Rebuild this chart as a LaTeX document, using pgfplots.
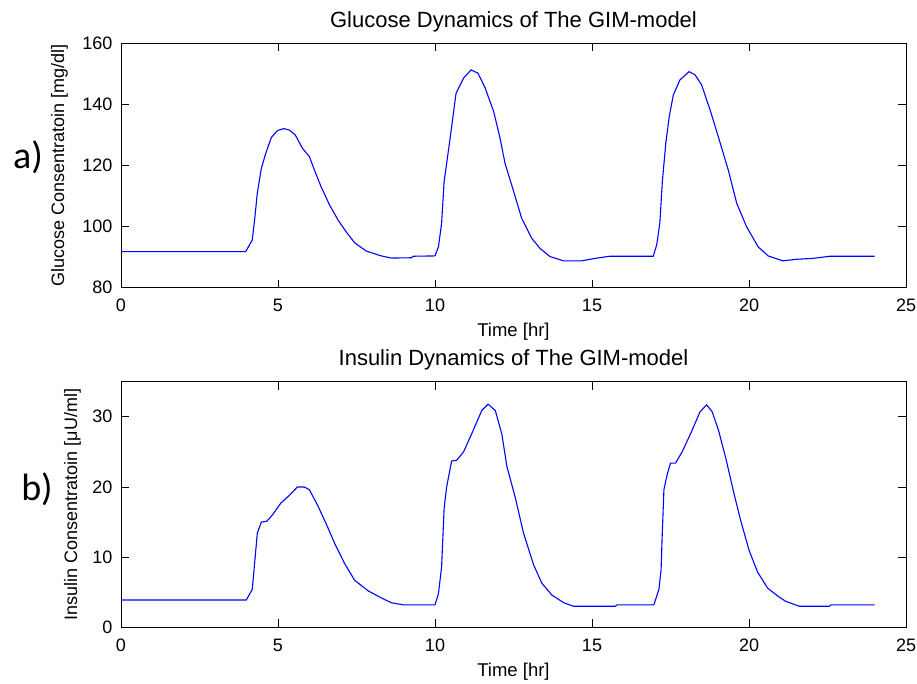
\documentclass[border=0pt]{standalone}
\usepackage{pgfplots}
\pgfplotsset{compat=1.18}
\usepackage{pgfplotstable}
\usepackage{fontspec}
\setmainfont{Liberation Sans}
\newfontfamily\labfont{Carlito}

\pgfplotstableread{
t G
0 91.8
3.97 91.8
4.18 95.6
4.26 102.7
4.34 110.9
4.47 119.1
4.61 124.0
4.79 129.2
4.98 131.4
5.18 132.1
5.36 131.6
5.55 130.0
5.78 125.6
6.00 122.9
6.16 118.5
6.37 113.1
6.64 107.1
6.91 102.2
7.17 98.3
7.44 94.7
7.81 92.0
8.29 90.4
8.61 89.7
9.25 89.8
9.31 90.3
10.00 90.4
10.11 93.4
10.21 101.1
10.29 114.7
10.43 125.1
10.53 132.7
10.67 143.6
10.91 148.6
11.15 151.3
11.37 150.2
11.60 145.3
11.87 137.6
12.07 129.0
12.23 120.7
12.49 112.0
12.76 102.7
13.08 96.2
13.34 92.9
13.66 90.2
14.09 88.8
14.67 88.8
15.10 89.6
15.57 90.3
16.95 90.3
17.06 94.0
17.16 101.1
17.24 114.7
17.35 127.3
17.46 136.0
17.59 143.1
17.80 148.0
18.09 150.7
18.28 149.7
18.49 146.4
18.76 138.2
19.02 129.5
19.34 118.5
19.61 107.6
19.92 100.0
20.29 93.4
20.61 90.4
21.08 88.8
21.51 89.3
22.04 89.6
22.58 90.3
24.00 90.3
}\glucose

\pgfplotstableread{
t I
0 3.89
3.99 3.89
4.18 5.4
4.26 9.35
4.34 13.4
4.47 15.0
4.64 15.1
4.82 16.0
5.09 17.7
5.36 18.8
5.62 20.0
5.84 20.0
6.00 19.6
6.26 17.4
6.53 14.8
6.80 12.0
7.12 9.1
7.44 6.7
7.87 5.2
8.24 4.3
8.61 3.5
8.99 3.2
10.00 3.2
10.11 4.8
10.21 8.6
10.29 16.9
10.37 20.0
10.53 23.7
10.69 23.8
10.91 25.0
11.17 27.6
11.49 30.9
11.69 31.8
11.92 30.9
12.13 27.5
12.29 22.9
12.55 18.6
12.82 13.4
13.14 8.9
13.40 6.3
13.72 4.6
14.10 3.5
14.41 3.0
15.74 3.0
15.80 3.2
16.97 3.2
17.13 5.4
17.20 8.2
17.23 12.4
17.29 19.6
17.39 21.7
17.50 23.4
17.66 23.4
17.87 25.0
18.14 27.6
18.44 30.7
18.65 31.7
18.83 30.7
19.04 27.9
19.26 24.1
19.52 19.1
19.73 15.3
20.00 11.0
20.27 7.9
20.59 5.6
20.90 4.5
21.17 3.7
21.60 3.0
22.55 3.0
22.61 3.2
24.00 3.2
}\insulin

\pgfplotsset{
  gim/.style={
    scale only axis,
    width=785pt,
    xmin=0, xmax=25,
    xtick={0,5,...,25},
    axis line style={black, line width=0.9pt},
    tick style={black, line width=0.9pt},
    major tick length=8pt,
    tick align=inside,
    tick label style={font=\fontsize{18}{20}\selectfont},
    /pgf/number format/assume math mode=true,
    xticklabel style={anchor=base, yshift=-24pt},
    yticklabel style={anchor=east, xshift=-5pt},
    every axis title shift=0pt,
    title style={font=\fontsize{22}{26}\selectfont, at={(axis description cs:0.5,1.066)}, anchor=base},
    xlabel style={font=\fontsize{18.5}{22}\selectfont, at={(axis description cs:0.5,-0.2)}, anchor=base},
    every axis y label/.style={font=\fontsize{18}{22}\selectfont, rotate=90, anchor=base},
    xlabel={Time [hr]},
  }
}

\begin{document}
\begin{tikzpicture}
\path[use as bounding box] (0pt,0pt) rectangle (917pt,-684pt);

\begin{axis}[gim,
  at={(121pt,-43.3pt)}, anchor=north west,
  height=244.4pt,
  ymin=80, ymax=160,
  ytick={80,100,...,160},
  title={Glucose Dynamics of The GIM-model},
  ylabel={Glucose Consentratoin [mg/dl]},
  every axis y label/.append style={at={(axis description cs:-0.0726,0.5)}},
]
\addplot[blue, line width=1.1pt] table[x=t, y=G] {\glucose};
\end{axis}

\begin{axis}[gim,
  at={(121pt,-381.7pt)}, anchor=north west,
  height=245.6pt,
  ymin=0, ymax=35,
  ytick={0,10,20,30},
  title={Insulin Dynamics of The GIM-model},
  ylabel={Insulin Consentratoin [μU/ml]},
  every axis y label/.append style={at={(axis description cs:-0.056,0.5)}},
]
\addplot[blue, line width=1.1pt] table[x=t, y=I] {\insulin};
\end{axis}

\node[font=\labfont\fontsize{38}{40}\selectfont, anchor=center] at (28pt,-157pt) {a)};
\node[font=\labfont\fontsize{38}{40}\selectfont, anchor=center] at (37pt,-489pt) {b)};
\end{tikzpicture}
\end{document}
